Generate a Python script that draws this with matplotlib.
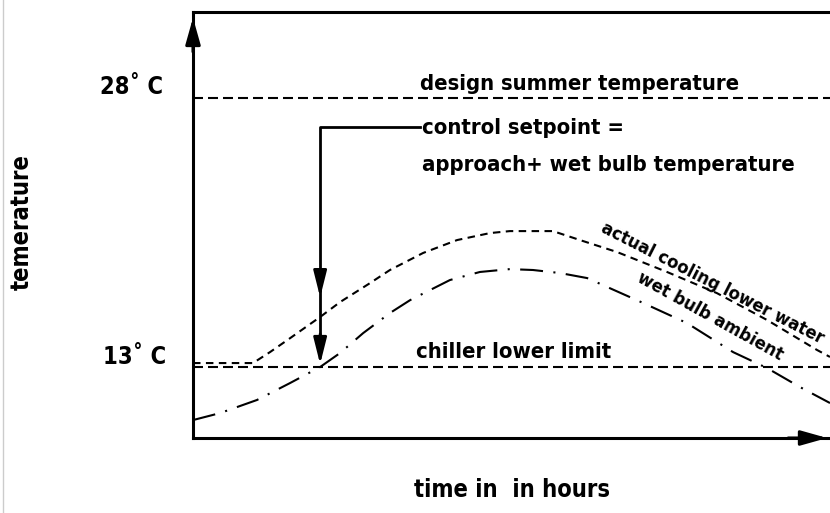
import numpy as np
import matplotlib
matplotlib.use("Agg")
import matplotlib.pyplot as plt

plt.rcParams['font.family'] = ['DejaVu Sans', 'DejaVu Sans']
plt.rcParams['font.stretch'] = 'condensed'
plt.rcParams['font.weight'] = 'bold'

# time of day in hours / temperature in deg C
hours_tower = [0.0, 2.26, 2.90, 3.66, 4.79, 5.54, 6.67, 7.42, 8.67, 9.95, 11.19, 11.94,
               13.56, 14.58, 15.98, 17.86, 19.74, 21.63, 23.51, 24.0]
temp_tower = [13.22, 13.22, 13.83, 14.61, 15.79, 16.62, 17.68, 18.41, 19.36, 20.08, 20.47, 20.58,
              20.58, 20.08, 19.41, 18.30, 17.12, 15.62, 13.95, 13.56]

hours_wetbulb = [0.0, 1.02, 2.41, 3.65, 4.79, 5.54, 6.41, 7.42, 8.18, 9.68, 10.81, 11.94,
                 12.81, 13.83, 14.85, 16.96, 18.61, 20.35, 21.63, 22.87, 24.0]
temp_wetbulb = [10.04, 10.43, 11.16, 12.10, 13.00, 13.78, 14.89, 16.01, 16.73, 17.85, 18.30, 18.46,
                18.41, 18.24, 17.96, 16.57, 15.45, 13.83, 12.94, 11.88, 10.99]

t_design = 28.0
t_chiller = 13.0
t_setpoint_top = 26.38
t_setpoint_tower = 16.73
hour_setpoint = 4.79
hour_label = 8.55

fig = plt.figure(figsize=(8.3, 5.13), dpi=100)
ax = fig.add_axes([193 / 830, 75 / 513, 637 / 830, 426 / 513])
ax.set_xlim(0, 24)
ax.set_ylim(9.04, 32.8)

ax.spines['right'].set_visible(False)
for side in ['left', 'top', 'bottom']:
    ax.spines[side].set_linewidth(2.2)
ax.set_xticks([])
ax.set_yticks([])

# reference lines
ax.axhline(t_design, color='black', lw=1.5, ls=(0, (4.8, 2.4)))
ax.axhline(t_chiller, color='black', lw=1.5, ls=(0, (4.8, 2.4)))

# curves
ax.plot(hours_tower, temp_tower, color='black', lw=1.5, ls=(0, (3.6, 2.6)))
ax.plot(hours_wetbulb, temp_wetbulb, color='black', lw=1.5, ls=(0, (11, 5, 1, 5)))

# axis arrows
ax.annotate('', xy=(0, 0.993), xytext=(0, 0.9), xycoords='axes fraction',
            arrowprops=dict(arrowstyle='-|>,head_length=1.6,head_width=0.45', color='black', lw=2.2))
ax.annotate('', xy=(1.0, 0), xytext=(0.93, 0), xycoords='axes fraction',
            arrowprops=dict(arrowstyle='-|>,head_length=1.6,head_width=0.45', color='black', lw=2.2))

# control setpoint pointer
ax.plot([hour_label, hour_setpoint, hour_setpoint], [t_setpoint_top, t_setpoint_top, t_chiller + 1.5],
        color='black', lw=2)
ax.annotate('', xy=(hour_setpoint, t_setpoint_tower), xytext=(hour_setpoint, 18.5),
            arrowprops=dict(arrowstyle='-|>,head_length=1.6,head_width=0.4', color='black', lw=2))
ax.annotate('', xy=(hour_setpoint, t_chiller), xytext=(hour_setpoint, 15.0),
            arrowprops=dict(arrowstyle='-|>,head_length=1.6,head_width=0.4', color='black', lw=2))

fs = 15.8
ax.text(8.55, t_design + 0.45, 'design summer temperature', fontsize=fs, va='baseline', ha='left')
ax.text(8.63, 26.33, 'control setpoint =', fontsize=fs, va='center', ha='left')
ax.text(8.63, 24.26, 'approach+ wet bulb temperature', fontsize=fs, va='center', ha='left')
ax.text(8.40, t_chiller + 0.5, 'chiller lower limit', fontsize=fs, va='baseline', ha='left')
ax.text(19.56, 17.68, 'actual cooling lower water', fontsize=13.2, rotation=-27,
        rotation_mode='anchor', ha='center', va='center')
ax.text(19.48, 15.84, 'wet bulb ambient', fontsize=13.2, rotation=-29,
        rotation_mode='anchor', ha='center', va='center')

fs_axis = 17
fig.text(163 / 830, 1 - 87 / 513, '28˚ C', fontsize=fs_axis, ha='right', va='center')
fig.text(166 / 830, 1 - 357 / 513, '13˚ C', fontsize=fs_axis, ha='right', va='center')
fig.text(22 / 830, 1 - 222 / 513, 'temerature', fontsize=fs_axis, rotation=90, ha='center', va='center')
fig.text(512 / 830, 1 - 490 / 513, 'time in  in hours', fontsize=fs_axis, ha='center', va='center')

# thin frame line at left edge
fig.add_artist(plt.Line2D([3 / 830, 3 / 830], [0, 1], color='#cccccc', lw=1, transform=fig.transFigure))

fig.savefig('out.png', dpi=100)
